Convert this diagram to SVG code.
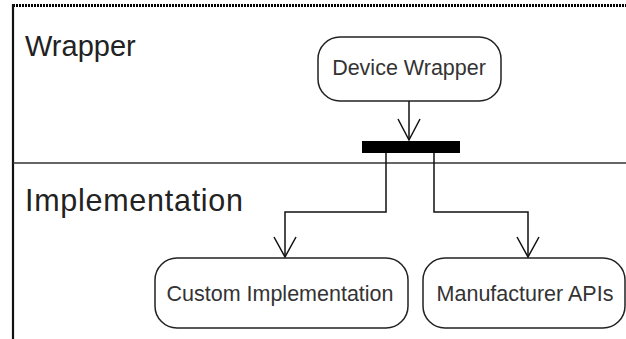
<svg xmlns="http://www.w3.org/2000/svg" width="626" height="339" viewBox="0 0 626 339">
<style>
.node{fill:#fff;stroke:#222;stroke-width:1.5}
.nt{font-family:"Liberation Sans",Arial,sans-serif;font-size:21.5px;fill:#333;text-anchor:middle}
.lane{font-family:"Liberation Sans",Arial,sans-serif;font-size:29px;fill:#222}
.edge{fill:none;stroke:#111;stroke-width:1.5}
</style>
<rect width="626" height="339" fill="#fff"/>
<g id="swimlanes">
<line x1="13" y1="5.5" x2="626" y2="5.5" stroke="#000" stroke-width="3" stroke-dasharray="2,1"/>
<line x1="13" y1="4" x2="13" y2="339" stroke="#111" stroke-width="2.2"/>
<line x1="13" y1="163" x2="626" y2="163" stroke="#333" stroke-width="1.6"/>
<text class="lane" x="25" y="56">Wrapper</text>
<text class="lane" x="25" y="211" style="font-size:30.5px" textLength="218" lengthAdjust="spacing">Implementation</text>
</g>
<g id="device-wrapper">
<rect class="node" x="318" y="37" width="183" height="64" rx="22"/>
<text class="nt" x="409" y="75">Device Wrapper</text>
</g>
<g id="fork">
<rect x="362" y="141" width="98" height="12" fill="#000"/>
</g>
<g id="custom-implementation">
<rect class="node" x="155" y="258" width="253" height="70" rx="22"/>
<text class="nt" x="280" y="301">Custom Implementation</text>
</g>
<g id="manufacturer-apis">
<rect class="node" x="423" y="258" width="202" height="70" rx="22"/>
<text class="nt" x="525" y="301">Manufacturer APIs</text>
</g>
<g id="connectors">
<line class="edge" x1="409" y1="101" x2="409" y2="140"/>
<polyline class="edge" points="398,119 409,140 420,119"/>
<polyline class="edge" points="386,153 386,212 285,212 285,257"/>
<polyline class="edge" points="274,237 285,257 296,237"/>
<polyline class="edge" points="434,153 434,212 528,212 528,257"/>
<polyline class="edge" points="517,237 528,257 539,237"/>
</g>
</svg>
